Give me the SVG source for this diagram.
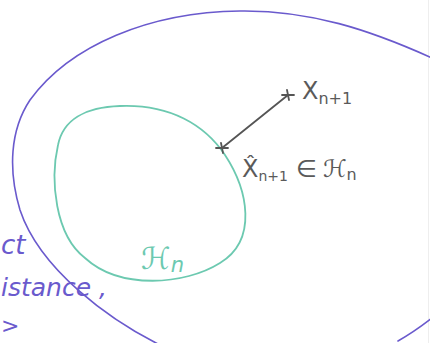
<svg xmlns="http://www.w3.org/2000/svg" width="430" height="343" viewBox="0 0 430 343">
<style>
.purple{fill:none;stroke:#6a5acd;stroke-width:1.6;stroke-linecap:round}
.green{fill:none;stroke:#6cc9b0;stroke-width:1.8}
.ink{stroke:#555;stroke-width:1.8;fill:none;stroke-linecap:round}
.t{font-family:"DejaVu Sans","Liberation Sans",sans-serif;fill:#5a5a5a}
.tp{font-family:"DejaVu Sans","Liberation Sans",sans-serif;fill:#6a5acd;font-style:italic}
.tg{font-family:"DejaVu Sans","Liberation Sans",sans-serif;fill:#6cc9b0;font-style:italic}
</style>
<rect width="430" height="343" fill="#fff"/>
<line x1="428.5" y1="0" x2="428.5" y2="343" stroke="#eee" stroke-width="1"/>
<g id="outer">
<path class="purple" d="M160,345 C110,320 40,270 20,210 C8,170 10,130 30,100 C70,45 150,12 240,11 C310,10 370,30 432,58"/>
<path class="purple" d="M398,341 Q414,332 432,318"/>
</g>
<g id="Hn">
<path class="green" d="M120,106 C170,104 205,125 225,155 C248,190 258,240 220,263 C185,285 120,290 85,258 C55,235 50,180 58,145 C63,120 85,107 120,106 Z"/>
<text class="tg" x="141" y="269" font-size="30">ℋ<tspan font-size="21" dy="3">n</tspan></text>
</g>
<g id="connectors">
<line class="ink" x1="222" y1="148" x2="288" y2="95"/>
</g>
<g id="x">
<path class="ink" d="M282,95 L294,95 M287,90 L289,100"/>
<text class="t" x="302" y="99" font-size="24">X<tspan font-size="16" dy="5">n+1</tspan></text>
</g>
<g id="xhat">
<path class="ink" d="M216,148 L228,148 M221,143 L223,153"/>
<text class="t" x="242" y="177" font-size="24">X̂<tspan font-size="14" dy="4">n+1</tspan><tspan dy="-4" dx="8">∈</tspan><tspan dx="6" font-style="italic">ℋ</tspan><tspan font-size="16" dy="3">n</tspan></text>
</g>
<g id="notes">
<text class="tp" x="1" y="254" font-size="26">ct</text>
<text class="tp" x="1" y="296" font-size="25">istance ,</text>
<text class="tp" x="1" y="333" font-size="22">&gt;</text>
</g>
</svg>
